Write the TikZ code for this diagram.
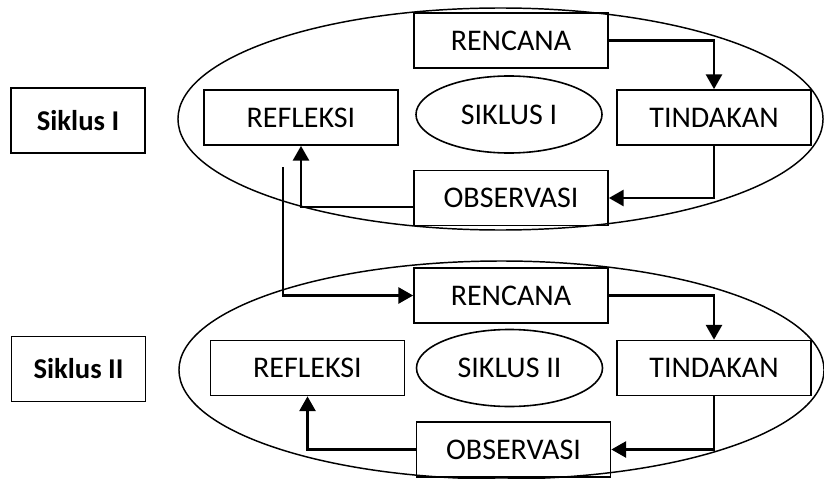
\documentclass[tikz,border=0pt]{standalone}
\usepackage{fontspec}
\setmainfont{Carlito}
\usetikzlibrary{arrows.meta, shapes.geometric}

\tikzset{
    stagebox/.style={draw, line width=1.3pt, minimum width=145.5pt,
        minimum height=41.25pt, inner sep=0pt, font=\fontsize{22.5}{26}\selectfont},
    cyclebox/.style={draw, line width=1.3pt, minimum width=100.5pt,
        minimum height=48.75pt, inner sep=0pt, font=\fontsize{21.5}{25}\selectfont\bfseries},
    cyclename/.style={draw, ellipse, line width=1.2pt, minimum width=139.5pt,
        minimum height=57.75pt, inner sep=0pt, font=\fontsize{22.5}{26}\selectfont},
    flow/.style={line width=1.7pt, -{Triangle[length=11pt,width=12pt]}}
}

\begin{document}
\begin{tikzpicture}[x=0.75pt, y=-0.75pt]

    \useasboundingbox (0,0) rectangle (824,478);

    % ---- Parameters ----
    \def\Lx{511}      % left column of the middle boxes
    \def\Rx{714}      % TINDAKAN column
    \def\rx{241.9pt}  % outer ellipse radii
    \def\ry{83.25pt}

    % ---- Siklus I ----
    \draw[line width=1.1pt] (500.5,119) ellipse [x radius=\rx, y radius=\ry];
    \node[cyclebox] (lab1) at (78,120.5) {Siklus I};
    \node[stagebox] (ref1) at (301,117.5) {REFLEKSI};
    \node[stagebox] (ren1) at (\Lx,40.5) {RENCANA};
    \node[stagebox] (tin1) at (\Rx,117.5) {TINDAKAN};
    \node[stagebox] (obs1) at (\Lx,198) {OBSERVASI};
    \node[cyclename] (cyc1) at (509,114.5) {SIKLUS I};

    \draw[flow] (ren1.east) -| (tin1.north);
    \draw[flow] (tin1.south) |- (obs1.east);
    \draw[flow] ([yshift=-6.75pt]obs1.west) -| (ref1.south);

    % ---- Siklus II ----
    \draw[line width=1.1pt] (501.5,370) ellipse [x radius=\rx, y radius=81.75pt];
    \node[cyclebox] (lab2) at (78.5,369) {Siklus II};
    \node[stagebox] (ref2) at (307.5,368) {REFLEKSI};
    \node[stagebox] (ren2) at (\Lx,295.5) {RENCANA};
    \node[stagebox] (tin2) at (\Rx,368) {TINDAKAN};
    \node[stagebox] (obs2) at (513.5,449.5) {OBSERVASI};
    \node[cyclename] (cyc2) at (509.5,368) {SIKLUS II};

    \draw[flow] (ren2.east) -| (tin2.north);
    \draw[flow] (tin2.south) |- (obs2.east);
    \draw[flow] (obs2.west) -| (ref2.south);

    % ---- link from cycle I to cycle II ----
    \coordinate (link) at (283,167);
    \draw[flow] (link) |- (ren2.west);

\end{tikzpicture}
\end{document}
